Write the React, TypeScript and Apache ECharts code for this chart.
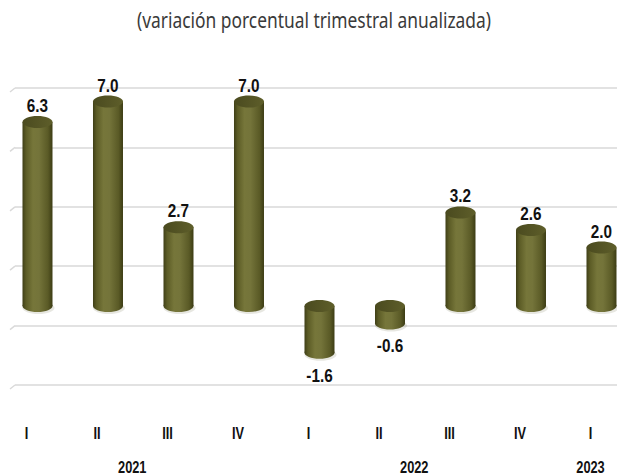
import React, { useEffect, useRef } from "react";
import * as echarts from "echarts";

const quarters = ["I", "II", "III", "IV", "I", "II", "III", "IV", "I"];
const values = [6.3, 7.0, 2.7, 7.0, -1.6, -0.6, 3.2, 2.6, 2.0];
const years = ["2021", "2022", "2023"];
const yearFirstIdx = [0, 4, 8];
const yearLastIdx = [3, 7, 8];
const gridValues = [8, 6, 4, 2, 0, -2];
const titleText = "(variación porcentual trimestral anualizada)";

const BOLDFONT = "'Liberation Sans', Arial, sans-serif";
const SQUEEZE = 0.8;

const X_MIN = -0.319;
const X_MAX = 8.22;

export default function App() {
  const ref = useRef<HTMLDivElement>(null);
  useEffect(() => {
    if (!ref.current) return;
    const chart = echarts.init(ref.current, null, { renderer: "svg" });
    const bodyFill = {
      type: "linear", x: 0, y: 0, x2: 1, y2: 0,
      colorStops: [
        { offset: 0, color: "#3f3f17" },
        { offset: 0.12, color: "#5c5c26" },
        { offset: 0.35, color: "#76763a" },
        { offset: 0.55, color: "#74743a" },
        { offset: 0.85, color: "#5a5a26" },
        { offset: 1, color: "#3c3c14" },
      ],
    };
    const topFill = {
      type: "linear", x: 0, y: 0, x2: 1, y2: 0,
      colorStops: [
        { offset: 0, color: "#4a4a1f" },
        { offset: 1, color: "#5e5e2a" },
      ],
    };
    const option: any = {
      animation: false,
      backgroundColor: "#ffffff",
      graphic: [
        {
          type: "text",
          x: 314,
          y: 20,
          scaleX: 0.79,
          silent: true,
          style: {
            text: titleText,
            align: "center",
            verticalAlign: "middle",
            fontSize: 22,
            fontWeight: "normal",
            fontFamily: "'Noto Sans', sans-serif",
            fill: "#3a3a3a",
          },
        },
      ],
      grid: { left: 15, right: 0, top: 88, bottom: 30.6 },
      xAxis: { type: "value", min: X_MIN, max: X_MAX, show: false },
      yAxis: [
        { type: "value", min: -4.74, max: 7.466, show: false },
        {
          type: "value", min: -4, max: 8, interval: 2, position: "left",
          axisLabel: { show: false }, axisLine: { show: false }, axisTick: { show: false },
          splitLine: { show: true, showMinLine: false, lineStyle: { color: "#d9d9d9", width: 1.5 } },
        },
      ],
      series: [
        {
          type: "custom",
          yAxisIndex: 1,
          silent: true,
          clip: false,
          data: gridValues.filter((v) => v > -4).map((v) => [X_MIN, v]),
          renderItem: (params: any, api: any) => {
            const p = api.coord([api.value(0), api.value(1)]);
            return {
              type: "line",
              shape: { x1: p[0] - 5, y1: p[1] + 4, x2: p[0], y2: p[1] },
              style: { stroke: "#d9d9d9", lineWidth: 1.5 },
            };
          },
        },
        {
          type: "custom",
          yAxisIndex: 0,
          clip: false,
          data: values.map((v, i) => [i, v]),
          renderItem: (params: any, api: any) => {
            const i = api.value(0);
            const v = api.value(1);
            const p0 = api.coord([i, 0]);
            const p1 = api.coord([i, v]);
            const rx = 15, ry = 6;
            const cx = p0[0];
            const yTop = Math.min(p0[1], p1[1]);
            const yBot = Math.max(p0[1], p1[1]);
            return {
              type: "group",
              children: [
                { type: "ellipse", shape: { cx: cx + 1, cy: yBot + 2, rx: rx + 1, ry: ry }, style: { fill: "rgba(120,120,90,0.18)" } },
                { type: "rect", shape: { x: cx - rx, y: yTop, width: 2 * rx, height: yBot - yTop }, style: { fill: bodyFill } },
                { type: "ellipse", shape: { cx, cy: yBot, rx, ry }, style: { fill: bodyFill } },
                { type: "ellipse", shape: { cx, cy: yTop, rx, ry }, style: { fill: topFill } },
                {
                  type: "text",
                  x: cx,
                  y: v >= 0 ? yTop - 16 : yBot + 23,
                  scaleX: 0.85,
                  style: {
                    text: v.toFixed(1),
                    align: "center",
                    verticalAlign: "middle",
                    fontSize: 18,
                    fontWeight: "bold",
                    fontFamily: BOLDFONT,
                    fill: "#111111",
                  },
                },
              ],
            };
          },
        },
        {
          type: "custom",
          yAxisIndex: 0,
          clip: false,
          silent: true,
          data: quarters.map((q, i) => [i, 0]),
          renderItem: (params: any, api: any) => {
            const i = api.value(0);
            const p = api.coord([i, 0]);
            return {
              type: "text",
              x: p[0] - 11,
              y: 433,
              scaleX: SQUEEZE,
              style: {
                text: quarters[params.dataIndex],
                align: "center",
                verticalAlign: "middle",
                fontSize: 16,
                fontWeight: "bold",
                fontFamily: BOLDFONT,
                fill: "#111111",
              },
            };
          },
        },
        {
          type: "custom",
          yAxisIndex: 0,
          clip: false,
          silent: true,
          data: years.map((y, k) => [(yearFirstIdx[k] + yearLastIdx[k]) / 2, 0]),
          renderItem: (params: any, api: any) => {
            const p = api.coord([api.value(0), 0]);
            return {
              type: "text",
              x: p[0] - 11,
              y: 467,
              scaleX: SQUEEZE,
              style: {
                text: years[params.dataIndex],
                align: "center",
                verticalAlign: "middle",
                fontSize: 16,
                fontWeight: "bold",
                fontFamily: BOLDFONT,
                fill: "#111111",
              },
            };
          },
        },
      ],
    };
    chart.setOption(option);
    return () => chart.dispose();
  }, []);
  return <div ref={ref} style={{ position: "absolute", left: 0, top: 0, width: 617, height: 475 }} />;
}
